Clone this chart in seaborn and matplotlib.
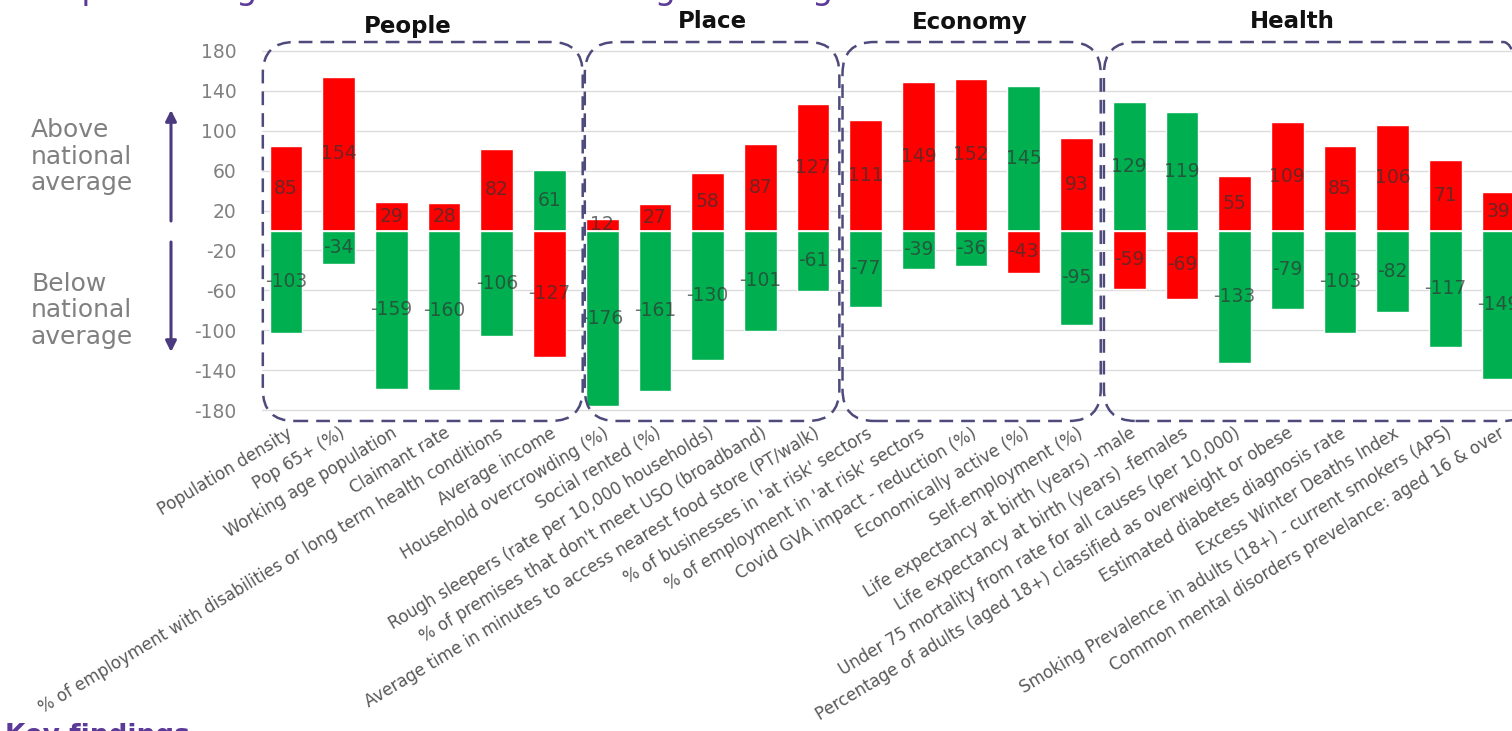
import numpy as np
import pandas as pd
import matplotlib
matplotlib.use("Agg")
import matplotlib.pyplot as plt
import seaborn as sns
from matplotlib.patches import FancyBboxPatch

# ---------------- data ----------------
categories = [
    "Population density", "Pop 65+ (%)", "Working age population", "Claimant rate",
    "% of employment with disabilities or long term health conditions", "Average income",
    "Household overcrowding (%)", "Social rented (%)",
    "Rough sleepers (rate per 10,000 households)",
    "% of premises that don't meet USO (broadband)",
    "Average time in minutes to access nearest food store (PT/walk)",
    "% of businesses in 'at risk' sectors", "% of employment in 'at risk' sectors",
    "Covid GVA impact - reduction (%)", "Economically active (%)", "Self-employment (%)",
    "Life expectancy at birth (years) -male", "Life expectancy at birth (years) -females",
    "Under 75 mortality from rate for all causes (per 10,000)",
    "Percentage of adults (aged 18+) classified as overweight or obese",
    "Estimated diabetes diagnosis rate", "Excess Winter Deaths Index",
    "Smoking Prevalence in adults (18+) - current smokers (APS)",
    "Common mental disorders prevelance: aged 16 & over",
]
above_values = [85, 154, 29, 28, 82, 61, 12, 27, 58, 87, 127, 111, 149, 152, 145, 93,
                129, 119, 55, 109, 85, 106, 71, 39]
below_values = [-103, -34, -159, -160, -106, -127, -176, -161, -130, -101, -61, -77, -39,
                -36, -43, -95, -59, -69, -133, -79, -103, -82, -117, -149]
# True where being above the national average is favourable (green above, red below)
above_is_good = [False, False, False, False, False, True, False, False, False, False, False,
                 False, False, False, True, False, True, True, False, False, False, False,
                 False, False]
groups = ["People", "Place", "Economy", "Health"]
y_ticks = [180, 140, 100, 60, 20, -20, -60, -100, -140, -180]

RED = "#FF0000"
GREEN = "#00B050"
PURPLE = "#4B3A7E"
BOX = "#4E4A7C"
GREY = "#808080"

above_colors = {c: (GREEN if g else RED) for c, g in zip(categories, above_is_good)}
below_colors = {c: (RED if g else GREEN) for c, g in zip(categories, above_is_good)}

df_above = pd.DataFrame({"cat": categories, "val": above_values})
df_below = pd.DataFrame({"cat": categories, "val": below_values})

# ---------------- figure ----------------
sns.set_theme(style="white")
plt.rcParams["font.family"] = ["DejaVu Sans"]

W, H = 1512, 731
fig = plt.figure(figsize=(W / 100, H / 100), dpi=100)
ax_left, ax_right, ax_top, ax_bottom = 262, 1512, 41, 420
ax = fig.add_axes([ax_left / W, 1 - ax_bottom / H, (ax_right - ax_left) / W,
                   (ax_bottom - ax_top) / H])

for t in y_ticks:
    ax.axhline(t, color="#DCDCDC", lw=1.0, zorder=0)

sns.barplot(data=df_above, x="cat", y="val", hue="cat", palette=above_colors,
            order=categories, hue_order=categories, width=0.62, legend=False,
            ax=ax, saturation=1, zorder=2)
sns.barplot(data=df_below, x="cat", y="val", hue="cat", palette=below_colors,
            order=categories, hue_order=categories, width=0.62, legend=False,
            ax=ax, saturation=1, zorder=2)
ax.axhline(0, color="white", lw=1.2, zorder=3)

for i, (a, b) in enumerate(zip(above_values, below_values)):
    ax.text(i, a / 2, str(a), ha="center", va="center", fontsize=13.5,
            color="#333333", alpha=0.7, zorder=4)
    ax.text(i, b / 2, str(b), ha="center", va="center", fontsize=13.5,
            color="#333333", alpha=0.7, zorder=4)

x_per_px = 1 / 52.7
ax.set_xlim(-(286 - ax_left) * x_per_px, (ax_right - 286) * x_per_px)
y_per_px = 360 / 359
ax.set_ylim(-(ax_bottom - 230.5) * y_per_px, (230.5 - ax_top) * y_per_px)

ax.set_yticks(y_ticks)
ax.set_yticklabels([str(t) for t in y_ticks])
ax.tick_params(axis="y", length=0, pad=18.5, labelsize=13.5, labelcolor=GREY)
ax.set_xticks(range(len(categories)))
ax.set_xticklabels(categories, rotation=31, ha="right", rotation_mode="anchor",
                   fontsize=12, color="#595959")
ax.tick_params(axis="x", length=0, pad=3)
ax.set_xlabel("")
ax.set_ylabel("")
for s in ax.spines.values():
    s.set_visible(False)

# dashed rounded group boxes
aspect = 52.7 * y_per_px
box_bounds = [(-0.44, 5.63), (5.67, 10.5), (10.56, 15.46), (15.52, 23.7)]
for (x0, x1) in box_bounds:
    p = FancyBboxPatch((x0, -191), x1 - x0, 380,
                       boxstyle="round,pad=0,rounding_size=0.6",
                       mutation_aspect=aspect, fill=False, edgecolor=BOX,
                       lw=1.8, ls=(0, (5.5, 3.2)), clip_on=False, zorder=5)
    ax.add_patch(p)

group_title_x = [408, 712, 970, 1292]
group_title_y = [27, 22, 22, 22]
for g, gx, gy in zip(groups, group_title_x, group_title_y):
    fig.text(gx / W, 1 - gy / H, g, ha="center", va="center", fontsize=16.5,
             fontweight="bold", color="#111111")

# left annotations
for i, line in enumerate(["Above", "national", "average"]):
    fig.text(31 / W, 1 - (130 + 26.5 * i) / H, line, ha="left", va="center",
             fontsize=18, color=GREY)
for i, line in enumerate(["Below", "national", "average"]):
    fig.text(31 / W, 1 - (284 + 26.5 * i) / H, line, ha="left", va="center",
             fontsize=18, color=GREY)
arrow_kw = dict(arrowstyle="-|>", color=PURPLE, lw=2.2, mutation_scale=16,
                shrinkA=0, shrinkB=0)
ax.annotate("", xy=(171, H - 110), xytext=(171, H - 221), xycoords="figure pixels",
            textcoords="figure pixels", arrowprops=arrow_kw, annotation_clip=False)
ax.annotate("", xy=(171, H - 352), xytext=(171, H - 242), xycoords="figure pixels",
            textcoords="figure pixels", arrowprops=arrow_kw, annotation_clip=False)

# cropped title and footer heading (cut by the figure edge, as in the source)
fig.text(5 / W, 1 + 1 / H, "Comparison against the national average ranking",
         ha="left", va="baseline", fontsize=24, color="#5B3A9A")
fig.text(5 / W, 1 - 723 / H, "Key findings", ha="left", va="top", fontsize=19,
         fontweight="bold", color="#5B3A9A")

fig.savefig("out.png", dpi=100)
